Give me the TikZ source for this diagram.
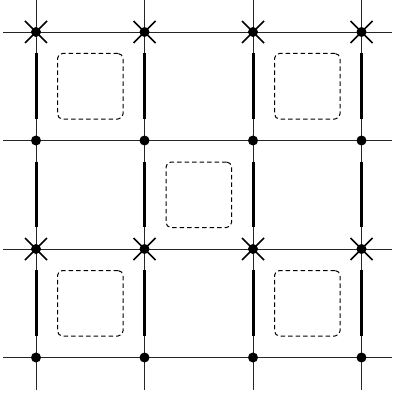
\documentclass[tikz,border=0pt]{standalone}
\usetikzlibrary{calc}
\tikzset{
  gridline/.style={line width=0.8pt, black!85},
  thickseg/.style={line width=3pt, black},
  dotmark/.style={circle, fill=black, inner sep=0pt, minimum size=10pt},
  crossarm/.style={line width=1.5pt, black},
  dashbox/.style={draw, dash pattern=on 4.5pt off 3pt, line width=1pt, rounded corners=5pt},
}
\begin{document}
\begin{tikzpicture}[x=1pt,y=-1pt]
\useasboundingbox (0,0) rectangle (392,401);
% grid coordinates
\foreach \i in {1,2,3,4}{
  \foreach \j in {1,2,3,4}{
    \coordinate (p-\i-\j) at ({36+108.5*(\i-1)},{32+108.5*(\j-1)});
  }
  \coordinate (top-\i) at ({36+108.5*(\i-1)},0);
  \coordinate (bot-\i) at ({36+108.5*(\i-1)},390);
  \coordinate (left-\i) at (3,{32+108.5*(\i-1)});
  \coordinate (right-\i) at (392,{32+108.5*(\i-1)});
}
% thin grid lines
\foreach \i in {1,2,3,4}{
  \draw[gridline] (top-\i) -- (bot-\i);
  \draw[gridline] (left-\i) -- (right-\i);
}
% thick segments
\foreach \i in {1,2,3,4}{
  \foreach \j/\k in {1/2,2/3,3/4}{
    \draw[thickseg] ($(p-\i-\j)+(0,21)$) -- ($(p-\i-\k)+(0,-22)$);
  }
}
% dots
\foreach \i in {1,2,3,4}{
  \foreach \j in {1,2,3,4}{
    \node[dotmark] (d-\i-\j) at (p-\i-\j) {};
  }
}
% crosses on rows 1 and 3
\foreach \i in {1,2,3,4}{
  \foreach \j in {1,3}{
    \draw[crossarm] ($(p-\i-\j)+(-11,-11)$) -- ($(p-\i-\j)+(11,11)$);
    \draw[crossarm] ($(p-\i-\j)+(-11,11)$) -- ($(p-\i-\j)+(11,-11)$);
  }
}
% dashed boxes
\foreach \a/\b/\c/\d [count=\n] in {1/1/2/2, 3/1/4/2, 2/2/3/3, 1/3/2/4, 3/3/4/4}{
  \coordinate (c-\n) at ($(p-\a-\b)!0.5!(p-\c-\d)$);
  \node[dashbox, minimum width=65.5pt, minimum height=65.5pt, inner sep=0pt] (box-\n) at (c-\n) {};
}
\end{tikzpicture}
\end{document}
